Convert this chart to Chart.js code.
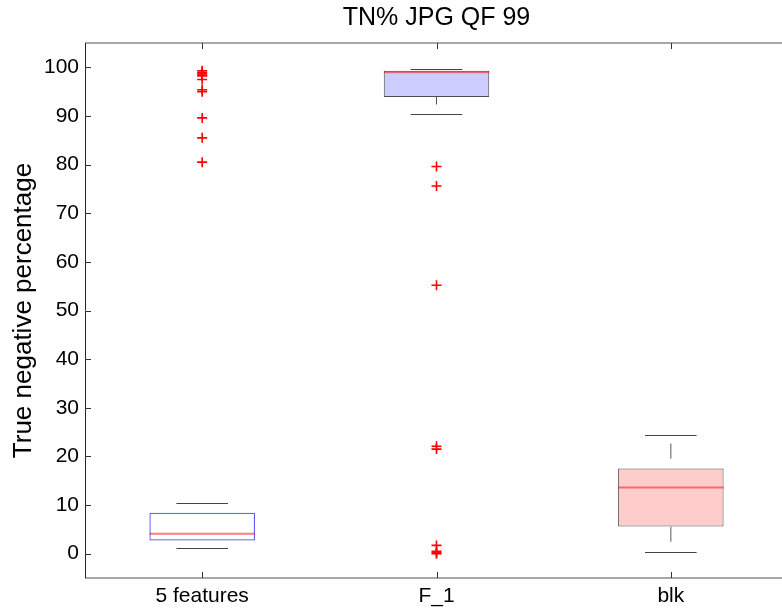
<!DOCTYPE html>
<html>
<head>
<meta charset="utf-8">
<title>TN% JPG QF 99</title>
<script src="https://cdn.jsdelivr.net/npm/chart.js@4/dist/chart.umd.min.js"></script>
<style>
  html, body { margin: 0; padding: 0; background: #fff; overflow: hidden; }
  canvas { display: block; }
</style>
</head>
<body>
<canvas id="boxChart" width="800" height="612"></canvas>
<script>
// categories (one box each)
var categories = ['5 features', 'F_1', 'blk'];

// box statistics per category
var lowerWhisker = [1.2, 90.3, 0.4];
var q1 = [2.7, 93.9, 5.6];
var median = [4.1, 99.0, 13.6];
var q3 = [8.4, 99.3, 17.5];
var upperWhisker = [10.4, 99.6, 24.4];

// outliers per category
var outliers5 = [99.3, 99.0, 98.7, 98.4, 98.2, 97.5, 95.4, 95.0, 89.6, 85.5, 80.5];
var outliersF1 = [79.6, 75.6, 55.2, 22.1, 21.5, 1.7, 0.5, 0.2, 0.0];
var outliersBlk = [];

// y axis ticks
var yTicks = [0, 10, 20, 30, 40, 50, 60, 70, 80, 90, 100];

// styles
var boxFill = ['rgba(255,255,255,0)', '#ccccff', '#ffcccc'];
var boxEdge = ['rgba(0,0,255,0.8)', '#4d4d4d', '#4d4d4d'];
var fontFamily = 'Liberation Sans, Arial, sans-serif';

var boxData = categories.map(function(c, i) { return [q1[i], q3[i]]; });

var outlierPoints = [];
[outliers5, outliersF1, outliersBlk].forEach(function(list, i) {
    list.forEach(function(v) { outlierPoints.push({x: categories[i], y: v}); });
});

// medians, whiskers and caps drawn on top of the boxes
var whiskerPlugin = {
    id: 'whiskers',
    afterDatasetsDraw: function(chart) {
        var ctx = chart.ctx;
        var xs = chart.scales.x, ys = chart.scales.y;
        var catW = xs.width / categories.length;
        ctx.save();
        categories.forEach(function(c, i) {
            var cx = xs.getPixelForValue(i);
            var capHalf = catW * 0.11;
            var boxHalf = catW * 0.225;
            // whiskers (dashed), drawn bottom to top
            ctx.strokeStyle = '#555';
            ctx.lineWidth = 1;
            ctx.setLineDash([15, 10]);
            ctx.lineDashOffset = 15;
            ctx.beginPath();
            ctx.moveTo(cx, ys.getPixelForValue(lowerWhisker[i]));
            ctx.lineTo(cx, ys.getPixelForValue(q1[i]));
            ctx.stroke();
            ctx.beginPath();
            ctx.moveTo(cx, ys.getPixelForValue(q3[i]));
            ctx.lineTo(cx, ys.getPixelForValue(upperWhisker[i]));
            ctx.stroke();
            ctx.setLineDash([]);
            // caps
            ctx.strokeStyle = '#444';
            [lowerWhisker[i], upperWhisker[i]].forEach(function(v) {
                var y = Math.round(ys.getPixelForValue(v)) + 0.5;
                ctx.beginPath();
                ctx.moveTo(cx - capHalf, y);
                ctx.lineTo(cx + capHalf, y);
                ctx.stroke();
            });
            // median
            ctx.strokeStyle = 'rgba(255,0,0,0.5)';
            ctx.lineWidth = 2;
            var my = ys.getPixelForValue(median[i]);
            ctx.beginPath();
            ctx.moveTo(cx - boxHalf, my);
            ctx.lineTo(cx + boxHalf, my);
            ctx.stroke();
        });
        ctx.restore();
    },
    afterDraw: function(chart) {
        // axes frame with inward tick marks
        var ctx = chart.ctx, a = chart.chartArea;
        var xs = chart.scales.x, ys = chart.scales.y;
        ctx.save();
        ctx.lineWidth = 1.5;
        ctx.strokeStyle = '#8a8a8a';
        ctx.beginPath();
        ctx.moveTo(a.left, a.top); ctx.lineTo(a.right, a.top);
        ctx.moveTo(a.left, a.bottom); ctx.lineTo(a.right, a.bottom);
        ctx.stroke();
        ctx.lineWidth = 1;
        ctx.strokeStyle = '#262626';
        ctx.beginPath();
        ctx.moveTo(a.left + 0.5, a.top); ctx.lineTo(a.left + 0.5, a.bottom);
        ctx.stroke();
        ctx.strokeStyle = '#333';
        ctx.beginPath();
        yTicks.forEach(function(v) {
            var y = Math.round(ys.getPixelForValue(v)) + 0.5;
            ctx.moveTo(a.left, y); ctx.lineTo(a.left + 6, y);
        });
        categories.forEach(function(c, i) {
            var x = Math.round(xs.getPixelForValue(i)) + 0.5;
            ctx.moveTo(x, a.bottom); ctx.lineTo(x, a.bottom - 6);
            ctx.moveTo(x, a.top); ctx.lineTo(x, a.top + 6);
        });
        ctx.stroke();
        ctx.restore();
    }
};

var ctx = document.getElementById('boxChart').getContext('2d');
window.boxChart = new Chart(ctx, {
    type: 'bar',
    data: {
        labels: categories,
        datasets: [{
            label: 'box',
            data: boxData,
            backgroundColor: boxFill,
            borderColor: boxEdge,
            borderWidth: 1,
            borderSkipped: false,
            barPercentage: 0.45,
            categoryPercentage: 1.0,
            order: 2
        }, {
            type: 'scatter',
            label: 'outliers',
            data: outlierPoints,
            pointStyle: 'cross',
            pointRadius: 5,
            pointBorderWidth: 1.6,
            borderColor: '#ff0000',
            backgroundColor: '#ff0000',
            showLine: false,
            order: 1
        }]
    },
    options: {
        responsive: false,
        animation: false,
        layout: { padding: { left: 0, right: 12, top: 0, bottom: 0 } },
        plugins: {
            legend: { display: false },
            tooltip: { enabled: false },
            title: {
                display: true,
                text: 'TN% JPG QF 99',
                fullSize: false,
                color: '#000',
                font: { family: fontFamily, size: 25, weight: 'normal' },
                padding: { top: 3.5, bottom: 9.5 }
            }
        },
        scales: {
            x: {
                type: 'category',
                offset: true,
                grid: { display: false, drawTicks: false },
                border: { display: false },
                ticks: {
                    color: '#000',
                    padding: 5.4,
                    font: { family: fontFamily, size: 21 }
                },
                afterFit: function(scale) { scale.height = 34; }
            },
            y: {
                min: -5,
                max: 105,
                grid: { display: false, drawTicks: false },
                border: { display: false },
                ticks: {
                    color: '#000',
                    padding: 6,
                    font: { family: fontFamily, size: 21 }
                },
                title: {
                    display: true,
                    text: 'True negative percentage',
                    color: '#000',
                    font: { family: fontFamily, size: 26 },
                    padding: { top: 8, bottom: 0 }
                },
                afterBuildTicks: function(scale) {
                    scale.ticks = yTicks.map(function(v) { return {value: v}; });
                },
                afterFit: function(scale) { scale.width = 85; }
            }
        }
    },
    plugins: [whiskerPlugin]
});
</script>
</body>
</html>
